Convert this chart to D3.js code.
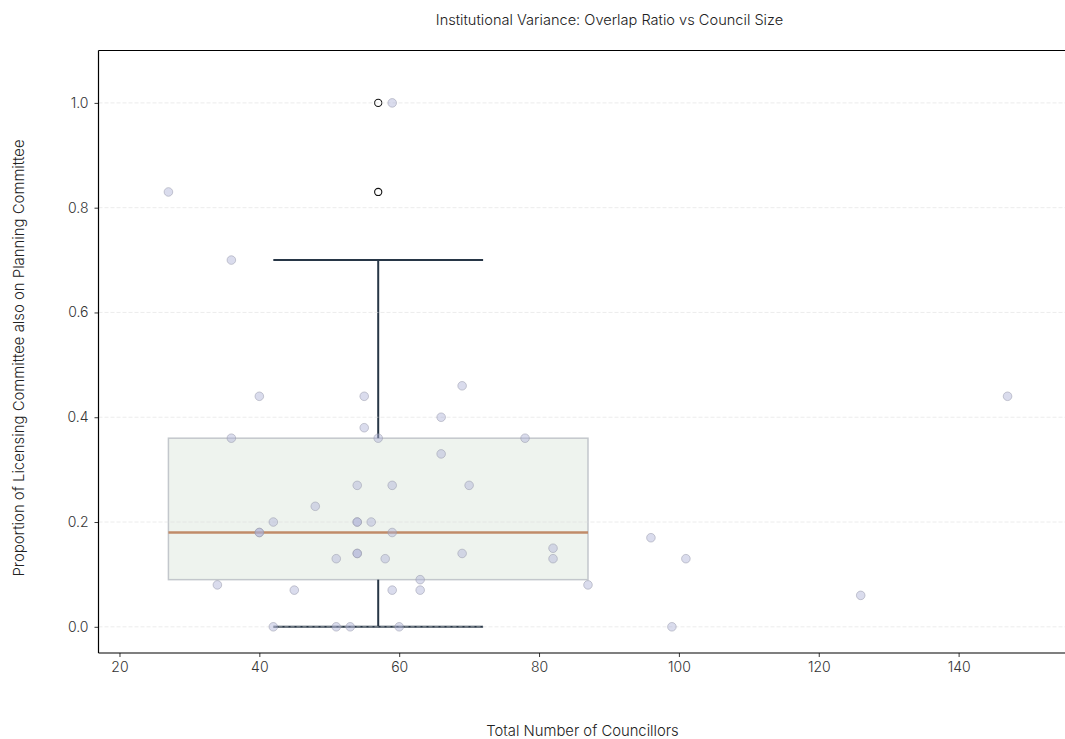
<!DOCTYPE html>
<html>
<head>
<meta charset="utf-8">
<script src="https://cdn.jsdelivr.net/npm/d3@7"></script>
<style>
  body { margin: 0; background: #fff; }
  text { font-family: Inter, "DejaVu Sans", sans-serif; font-weight: 300; }
</style>
</head>
<body>
<div id="container"></div>
<script>
// council size vs overlap ratio
const councillors = [27, 36, 40, 36, 34, 40, 40, 42, 42, 45, 48, 51, 51, 53, 54, 54, 54, 54, 54,
  55, 55, 56, 57, 58, 59, 59, 59, 59, 60, 63, 63, 66, 66, 69, 69, 70, 78, 82, 82, 87, 96, 99, 101, 126, 147];
const overlap = [0.83, 0.70, 0.44, 0.36, 0.08, 0.18, 0.18, 0.20, 0.00, 0.07, 0.23, 0.13, 0.00, 0.00, 0.27, 0.20, 0.20, 0.14, 0.14,
  0.44, 0.38, 0.20, 0.36, 0.13, 0.27, 0.18, 0.07, 1.00, 0.00, 0.09, 0.07, 0.40, 0.33, 0.46, 0.14, 0.27, 0.36, 0.15, 0.13, 0.08, 0.17, 0.00, 0.13, 0.06, 0.44];
const xTicks = [20, 40, 60, 80, 100, 120, 140];
const yTicks = [0.0, 0.2, 0.4, 0.6, 0.8, 1.0];

const data = councillors.map((c, i) => ({x: c, y: overlap[i]}));

const width = 1065;
const height = 739;
const marginTop = 50.5;
const marginLeft = 98.5;
const marginBottom = 86;
const plotRight = 1067;

const x = d3.scaleLinear([17, 155.5], [marginLeft, plotRight]);
const y = d3.scaleLinear([-0.05, 1.1], [height - marginBottom, marginTop]);

// box stats, matplotlib style (linear quantiles, 1.5 IQR whiskers)
const ys = overlap.slice().sort(d3.ascending);
const q1 = d3.quantile(ys, 0.25);
const med = d3.quantile(ys, 0.5);
const q3 = d3.quantile(ys, 0.75);
const iqr = q3 - q1;
const inside = ys.filter(v => v >= q1 - 1.5 * iqr && v <= q3 + 1.5 * iqr);
const wLo = d3.min(inside), wHi = d3.max(inside);
const fliers = ys.filter(v => v < wLo || v > wHi);
const boxPos = d3.median(councillors);
const boxW = (d3.max(councillors) - d3.min(councillors)) / 2;

const svg = d3.create("svg")
  .attr("width", width)
  .attr("height", height);

// box
svg.append("rect")
  .attr("x", x(boxPos - boxW / 2))
  .attr("y", y(q3))
  .attr("width", x(boxPos + boxW / 2) - x(boxPos - boxW / 2))
  .attr("height", y(q1) - y(q3))
  .attr("fill", "#eef3ee")
  .attr("stroke", "#c3c7cc")
  .attr("stroke-width", 1.5);

const whisk = svg.append("g").attr("stroke", "#273646").attr("stroke-width", 2);
whisk.append("line").attr("x1", x(boxPos)).attr("x2", x(boxPos)).attr("y1", y(q3)).attr("y2", y(wHi));
whisk.append("line").attr("x1", x(boxPos)).attr("x2", x(boxPos)).attr("y1", y(q1)).attr("y2", y(wLo));
[wLo, wHi].forEach(v => {
  whisk.append("line")
    .attr("x1", x(boxPos - boxW / 4)).attr("x2", x(boxPos + boxW / 4))
    .attr("y1", y(v)).attr("y2", y(v));
});

svg.append("line")
  .attr("x1", x(boxPos - boxW / 2)).attr("x2", x(boxPos + boxW / 2))
  .attr("y1", y(med)).attr("y2", y(med))
  .attr("stroke", "#c08b69")
  .attr("stroke-width", 2.5);

svg.append("g")
  .selectAll("circle")
  .data(fliers)
  .join("circle")
    .attr("cx", x(boxPos))
    .attr("cy", d => y(d))
    .attr("r", 3.6)
    .attr("fill", "none")
    .attr("stroke", "#111")
    .attr("stroke-width", 1.1);

// grid on top of the box, like the original
svg.append("g")
  .selectAll("line")
  .data(yTicks)
  .join("line")
    .attr("x1", marginLeft).attr("x2", plotRight)
    .attr("y1", d => y(d)).attr("y2", d => y(d))
    .attr("stroke", "#dcdcdc")
    .attr("stroke-opacity", 0.7)
    .attr("stroke-width", 0.8)
    .attr("stroke-dasharray", "4,2");

// scatter
svg.append("g")
  .selectAll("circle")
  .data(data)
  .join("circle")
    .attr("cx", d => x(d.x))
    .attr("cy", d => y(d.y))
    .attr("r", 4.3)
    .attr("fill", "#aeb1d6")
    .attr("fill-opacity", 0.45)
    .attr("stroke", "#9a9cae")
    .attr("stroke-opacity", 0.6)
    .attr("stroke-width", 0.9);

// axes
const gx = svg.append("g")
  .attr("transform", `translate(0,${height - marginBottom})`)
  .call(d3.axisBottom(x).tickValues(xTicks).tickSize(4).tickPadding(5).tickFormat(d3.format("d")));
const gy = svg.append("g")
  .attr("transform", `translate(${marginLeft},0)`)
  .call(d3.axisLeft(y).tickValues(yTicks).tickSize(4).tickPadding(6).tickFormat(d3.format(".1f")));
[gx, gy].forEach(g => {
  g.select(".domain").remove();
  g.selectAll(".tick line").attr("stroke", "#222").attr("stroke-width", 0.9);
  g.selectAll(".tick text").attr("fill", "#333").attr("font-size", 14);
});

// spines
svg.append("line").attr("x1", marginLeft).attr("x2", marginLeft)
  .attr("y1", marginTop).attr("y2", height - marginBottom)
  .attr("stroke", "#000").attr("stroke-width", 1.2);
svg.append("line").attr("x1", marginLeft).attr("x2", plotRight)
  .attr("y1", height - marginBottom).attr("y2", height - marginBottom)
  .attr("stroke", "#000").attr("stroke-width", 1.2);
svg.append("line").attr("x1", marginLeft).attr("x2", plotRight)
  .attr("y1", marginTop).attr("y2", marginTop)
  .attr("stroke", "#000").attr("stroke-width", 1.2);

svg.append("text")
  .attr("x", 609.5).attr("y", 25)
  .attr("text-anchor", "middle")
  .attr("font-size", 14.6)
  .attr("fill", "#222")
  .text("Institutional Variance: Overlap Ratio vs Council Size");

svg.append("text")
  .attr("x", 582.5).attr("y", 736)
  .attr("text-anchor", "middle")
  .attr("font-size", 14.8)
  .attr("fill", "#222")
  .text("Total Number of Councillors");

svg.append("text")
  .attr("transform", `translate(24,358) rotate(-90)`)
  .attr("text-anchor", "middle")
  .attr("font-size", 14.9)
  .attr("fill", "#222")
  .text("Proportion of Licensing Committee also on Planning Committee");

document.getElementById("container").append(svg.node());
</script>
</body>
</html>
